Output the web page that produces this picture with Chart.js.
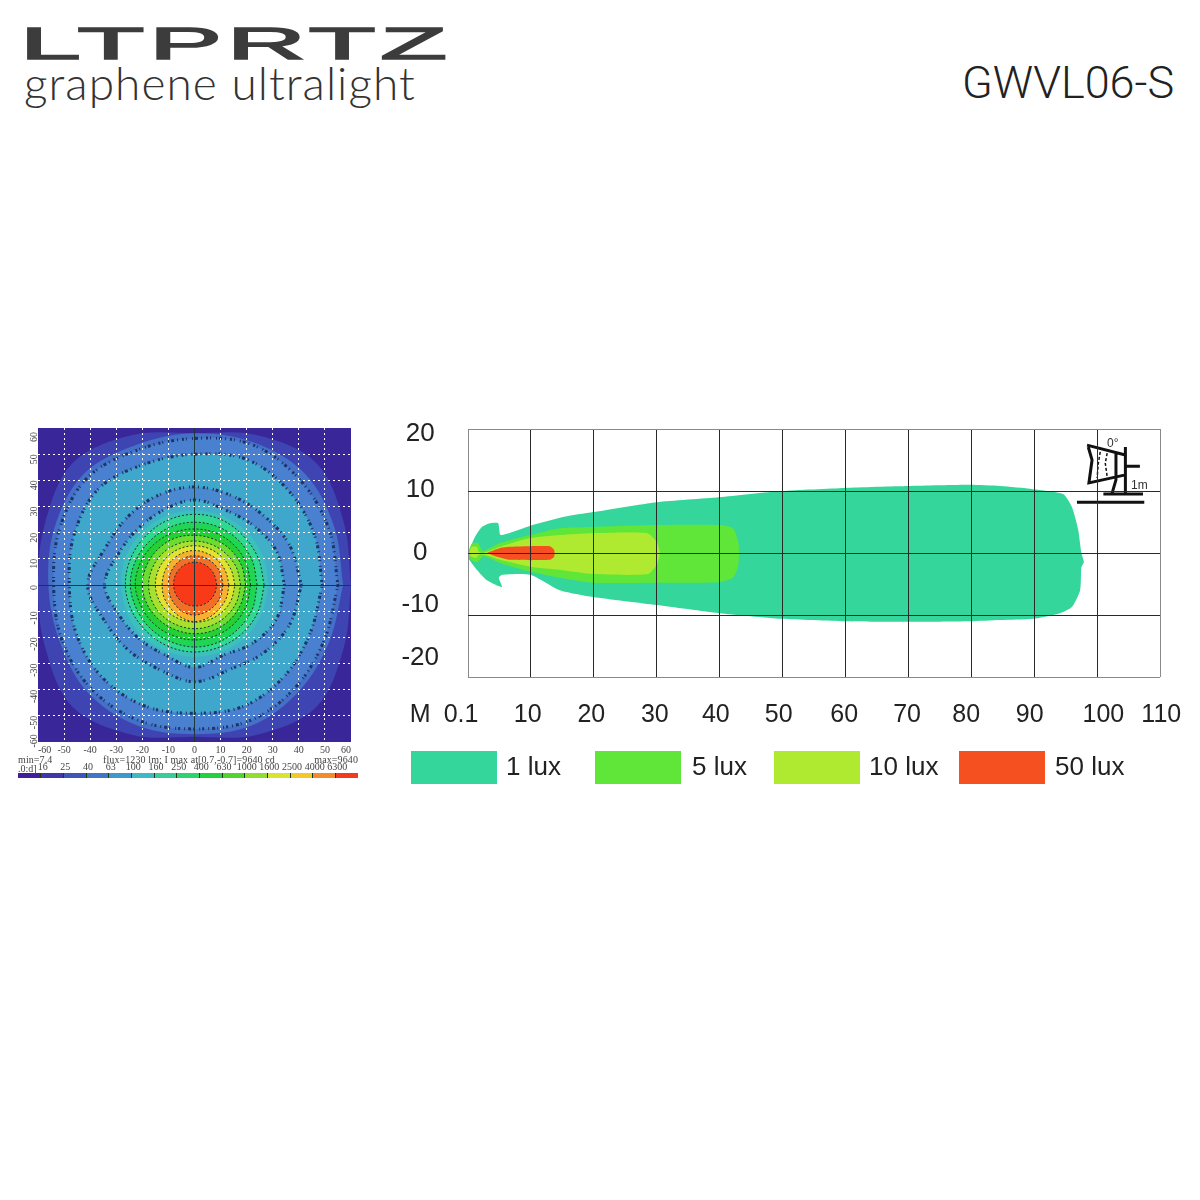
<!DOCTYPE html>
<html>
<head>
<meta charset="utf-8">
<title>GWVL06-S</title>
<script src="https://cdn.jsdelivr.net/npm/chart.js@4/dist/chart.umd.min.js"></script>
<style>
  html, body { margin: 0; padding: 0; background: #fff; }
  body { position: relative; width: 1200px; height: 1200px; overflow: hidden; font-family: "Liberation Sans", sans-serif; }
  canvas { position: absolute; }
  .txt { position: absolute; white-space: nowrap; line-height: 1; }
  #logo { left: 20px; top: 19px; font: 400 44px "Liberation Sans"; color: #3c3c3c; letter-spacing: 2px; transform: scaleX(2.48); transform-origin: left top; -webkit-text-stroke: 1.5px #3c3c3c; }
  #sub { left: 24px; top: 55px; font: 300 46px Lato; color: #333; letter-spacing: 1.05px; }
  #model { left: 962px; top: 56px; font: 300 45px Roboto; color: #222; }
  .tiny { font: 10px "Liberation Serif"; color: #444; letter-spacing: .1px; }
  .box { position: absolute; top: 751px; width: 86px; height: 33px; }
  .lux { font-size: 26px; color: #222; top: 753px; }
  .icon { font-size: 12px; color: #333; }
</style>
</head>
<body>
<div class="txt" id="logo">LTPRTZ</div>
<div class="txt" id="sub">graphene ultralight</div>
<div class="txt" id="model">GWVL06-S</div>

<canvas id="heat" width="380" height="340" style="left:0;top:420px"></canvas>
<canvas id="bar" width="380" height="30" style="left:0;top:755px"></canvas>
<canvas id="throw" width="820" height="340" style="left:380px;top:415px"></canvas>

<div class="txt tiny" style="left:18px;top:754px">min=7.4</div>
<div class="txt tiny" style="left:103px;top:754px">flux=1230 lm; I max at[0.7,-0.7]=9640 cd</div>
<div class="txt tiny" style="right:842px;top:754px">max=9640</div>
<div class="txt tiny" style="left:18px;top:763px;letter-spacing:0">.0:d]</div>
<div class="txt icon" style="left:1107px;top:437px">0°</div>
<div class="txt icon" style="left:1131px;top:479px">1m</div>
<div id="legend"></div>

<script>
// luminous intensity map: level radii read in 16 directions, counter-clockwise from east
var heatTicks = [-60, -50, -40, -30, -20, -10, 0, 10, 20, 30, 40, 50, 60];
var heatLabelPos = [-57, -50, -40, -30, -20, -10, 0, 10, 20, 30, 40, 50, 58.5];
var cornerSquare = [{x: -60, y: -60}, {x: 60, y: -60}, {x: 60, y: 60}, {x: -60, y: 60}, {x: -60, y: -60}];
var edgeLevel = [60, 62, 66, 62, 58, 62, 66, 62, 60, 62, 66, 62, 58, 62, 66, 62];
var midLevel = [57, 58, 60, 59, 58, 58, 60, 58, 56, 56, 58, 58, 57, 58, 57, 56];
var outerBandOut = [55, 55.8, 57, 58, 56, 56, 58, 56, 54, 55, 56, 56, 55, 56, 55, 54];
var outerBandIn = [49, 49.8, 51, 52, 50, 50, 52, 50, 48, 49, 50, 50, 49, 50, 49, 48];
var innerBandOut = [41, 39.5, 37.5, 37, 37.5, 37, 36.5, 37, 41, 37, 35.5, 35, 37, 35, 37, 39.5];
var innerBandIn = [34.5, 34, 32, 31, 32.5, 31, 30.5, 31.5, 34.5, 31, 29.5, 29, 31.5, 29, 31.5, 34];
var halo = [28.5, 28.5, 28.5, 28.5, 28.5, 28.5, 28.5, 28.5, 28, 28, 28, 27.5, 27.5, 27.5, 28, 28];
var contour1 = [26.7, 26.5, 26.5, 27, 27, 26.8, 26.5, 26.5, 26.5, 26, 25.5, 25.5, 25.6, 25.6, 26, 26.4];
var contour2 = [24, 24, 24, 24, 24, 24, 24, 24.4, 24.6, 24, 23.7, 23.5, 23.7, 23.7, 23.7, 24];
var contour3 = [21.5, 21.5, 21.5, 21.5, 21.4, 21.6, 22, 22.4, 22.7, 22, 21.5, 21, 21, 21, 21.2, 21.4];
var contour4 = [19.6, 19.5, 19.3, 19, 19, 19.4, 19.6, 19.8, 20, 19.6, 19, 18.6, 18.6, 18.8, 19, 19.2];
var contour5 = [17.7, 17.4, 17, 16.8, 16.8, 17, 17.2, 17.4, 17.6, 17.4, 17, 16.7, 16.7, 16.8, 17, 17.4];
var contour6 = [15.5, 15.2, 15, 15, 15, 15, 15, 15, 15, 14.8, 14.5, 14.2, 14.2, 14.4, 14.8, 15.2];
var contour7 = [13.2, 13, 13, 13, 13.2, 13, 12.8, 12.5, 12.4, 12.6, 12.8, 13.4, 14, 13.6, 13.2, 13.2];
var contour8 = [10.9, 10.9, 11, 11.1, 11.2, 11, 10.6, 10.2, 10, 10.2, 10.6, 11.2, 11.5, 11.2, 11, 10.9];
var coreLevel = [8.5, 8.5, 8.6, 8.7, 8.7, 8.6, 8.4, 8.2, 8, 8, 8, 8, 8, 8.2, 8.3, 8.4];

// colour bar
var barLabels = ['16', '25', '40', '63', '100', '160', '250', '400', '630', '1000', '1600', '2500', '4000', '6300'];
var barColors = ['#3f1f9c', '#3e37a8', '#3f55b8', '#4076c8', '#3f98cc', '#3fb8c4', '#38cc9c', '#2cd470', '#24d040', '#50d430', '#90dc30', '#d8e430', '#f4c828', '#f48a2a', '#f43a1c'];

// beam distance chart, metres and degrees
var distanceTicks = ['M', '0.1', '10', '20', '30', '40', '50', '60', '70', '80', '90', '100', '110'];
var distanceTickPos = [-7.6, -1.1, 9.5, 19.6, 29.7, 39.4, 49.4, 59.8, 69.8, 79.2, 89.3, 101, 110.2];
var heightTicks = ['20', '10', '0', '-10', '-20'];
var heightTickPos = [19.2, 10.2, 0, -8.4, -16.9];

var luxNames = ['1 lux', '5 lux', '10 lux', '50 lux'];
var luxColors = ['#35d69b', '#60e638', '#b0ea30', '#f5501f'];
var legendLeft = [411, 595, 774, 959];
var legendTextLeft = [506, 692, 869, 1055];

var lux1 = [[0, 0], [1.1, 2.6], [2.2, 4.2], [3.5, 4.8], [4.8, 4.8], [5.2, 2.9], [9.9, 4.4], [15.1, 5.8], [19.9, 6.6], [30, 8.2], [39.9, 9], [49.9, 10], [59.9, 10.5], [70, 10.8], [79.8, 11], [84.6, 10.8], [89.8, 10.3], [94.6, 9.5], [96, 7.4], [97, 3.7], [97.5, 0], [97.9, -1.5], [97.5, -2.3], [97.3, -6], [96, -8.7], [94.1, -9.7], [89.8, -10.6], [84.6, -10.8], [79.8, -11], [70, -11.1], [59.9, -11], [49.9, -10.6], [39.9, -9.7], [30, -8.4], [19.9, -7.1], [14.6, -6], [9.9, -3.5], [5.4, -3.5], [4.9, -4], [5.4, -5.5], [3, -4.4], [1.4, -2.7], [0, -0.8]];
var lux5 = [[0, 0], [0.6, 1.5], [1.6, 1.6], [2.1, 0.6], [2.5, 0.3], [5.1, 1.6], [9.9, 2.9], [14.6, 4], [19.9, 4.2], [30, 4.5], [39.9, 4.5], [42.1, 4], [42.9, 2.1], [43.1, 0], [42.9, -2.3], [42.1, -4], [39.9, -4.7], [30, -4.8], [19.9, -4.8], [14.6, -4], [9.9, -3], [5.1, -1.6], [2.5, -0.5], [2.1, -0.8], [1.4, -1.5], [0.5, -1.1], [0, -0.3]];
var lux10 = [[0.2, 0], [0.6, 1], [1.4, 1], [1.7, 0.2], [2.4, 0], [5.1, 1], [9.9, 2.4], [14.6, 2.9], [19.9, 3.2], [28.5, 3.2], [30, 1.8], [30.5, 0], [30, -1.9], [28.6, -3.4], [19.9, -3.4], [14.6, -2.7], [9.9, -2.2], [5.1, -1.1], [2.4, -0.2], [1.7, -0.3], [1.3, -0.8], [0.5, -0.6]];
var lux50 = [[3, 0], [5.1, 0.8], [6.7, 1], [13, 1.1], [13.7, 0.5], [13.7, -0.6], [13, -1.1], [6.7, -1.1], [4.6, -0.6], [3, 0]];

// mounting sketch in the top right corner
var sketchHeavy = [[96.8, 8.2], [107.5, 8.2], null, [101, 9.5], [107.3, 9.5], null, [104.5, 17.1], [104.5, 9.5], null, [104.5, 14], [106.8, 14], null, [103, 16.1], [103, 11.8], [102.4, 9.7], null, [98.4, 17.4], [104.5, 15.8], null, [98.6, 17.1], [99.2, 15], [98.7, 11.3], [104.5, 12.6]];
var sketchLight = [[100.5, 16.3], [100.2, 14.5], [100, 12.1], null, [101.6, 16.1], [101.3, 14.5], [101.6, 12.3]];

function toPoints(list) {
  return list.map(function (p) {
    return p ? {x: p[0], y: p[1]} : {x: NaN, y: NaN};
  });
}

function fromRadii(radii) {
  var pts = radii.map(function (r, i) {
    var a = i * Math.PI / 8;
    return {x: r * Math.cos(a), y: r * Math.sin(a)};
  });
  pts.push(pts[0]);
  return pts;
}

function region(points, color, line, dash, width, tension) {
  return {
    data: points,
    showLine: true,
    fill: 'shape',
    backgroundColor: color,
    borderColor: line || 'transparent',
    borderWidth: width || 0,
    borderDash: dash || [],
    pointRadius: 0,
    tension: tension === undefined ? 0.35 : tension
  };
}

var bandDots = '#1d3566';
var ringLine = '#17352a';
var speckle = [1, 2, 2, 4, 1, 3, 3, 2, 1, 5];
var heatSets = [
  region(cornerSquare, '#39279a', null, null, 0, 0),
  region(fromRadii(edgeLevel), '#3e45b2'),
  region(fromRadii(midLevel), '#4470c8'),
  region(fromRadii(outerBandOut), '#4a80d0', bandDots, speckle, 3),
  region(fromRadii(outerBandIn), '#3fa6cc', bandDots, speckle, 3),
  region(fromRadii(innerBandOut), '#4a88d0', bandDots, speckle, 3),
  region(fromRadii(innerBandIn), '#3fb0c8', bandDots, speckle, 3),
  region(fromRadii(halo), '#3cc0bc'),
  region(fromRadii(contour1), '#30d890', ringLine, [2, 2], 1),
  region(fromRadii(contour2), '#20d454', ringLine, [2, 2], 1),
  region(fromRadii(contour3), '#24d034', ringLine, [2, 2], 1),
  region(fromRadii(contour4), '#6cdc30', ringLine, [2, 2], 1),
  region(fromRadii(contour5), '#a8e030', ringLine, [2, 2], 1),
  region(fromRadii(contour6), '#e4e230', ringLine, [2, 2], 1),
  region(fromRadii(contour7), '#f8b030', ringLine, [2, 2], 1),
  region(fromRadii(contour8), '#f0702a', ringLine, [2, 2], 1),
  region(fromRadii(coreLevel), '#f83a18', ringLine, [2, 2], 1)
];
heatSets.forEach(function (d, i) { d.order = -i; });

function heatGrid(ctx) {
  if (ctx.tick.value === 0) return '#1a3a3a';
  return Math.abs(ctx.tick.value) === 60 ? 'transparent' : '#ffffff';
}
function heatDash(ctx) {
  return ctx.tick.value === 0 ? [] : [2, 3];
}

new Chart(document.getElementById('heat'), {
  type: 'scatter',
  data: {datasets: heatSets},
  options: {
    responsive: false,
    animation: false,
    layout: {padding: {top: 8, right: 29, left: 0, bottom: 0}},
    plugins: {legend: {display: false}, tooltip: {enabled: false}},
    scales: {
      x: {
        min: -60, max: 60,
        afterBuildTicks: function (s) { s.ticks = heatTicks.map(function (v) { return {value: v}; }); },
        afterFit: function (s) { s.height = 18; s.paddingLeft = 0; s.paddingRight = 0; },
        grid: {color: heatGrid, z: 1, drawTicks: false, lineWidth: 1},
        border: {display: false, dash: heatDash},
        ticks: {align: 'inner', maxRotation: 0, autoSkip: false, padding: 2, color: '#444', font: {family: 'Liberation Serif', size: 10}}
      },
      y: {
        min: -60, max: 60,
        afterBuildTicks: function (s) { s.ticks = heatTicks.map(function (v) { return {value: v}; }); },
        afterFit: function (s) { s.width = 0; s.paddingTop = 0; s.paddingBottom = 0; },
        grid: {color: heatGrid, z: 1, drawTicks: false, lineWidth: 1},
        border: {display: false, dash: heatDash},
        ticks: {display: false}
      },
      yLabels: {
        axis: 'y',
        position: 'left',
        min: -60, max: 60,
        afterBuildTicks: function (s) { s.ticks = heatLabelPos.map(function (v) { return {value: v}; }); },
        afterFit: function (s) { s.width = 38; s.paddingTop = 0; s.paddingBottom = 0; },
        grid: {display: false},
        border: {display: false},
        ticks: {
          minRotation: 90, maxRotation: 90, autoSkip: false, padding: -4, color: '#444',
          font: {family: 'Liberation Serif', size: 10},
          callback: function (v, i) { return String(heatTicks[i]); }
        }
      }
    }
  }
});

new Chart(document.getElementById('bar'), {
  type: 'bar',
  data: {
    labels: [''],
    datasets: barColors.map(function (c) {
      return {data: [1], backgroundColor: c, barPercentage: 1, categoryPercentage: 1, stack: 'level'};
    })
  },
  options: {
    indexAxis: 'y',
    responsive: false,
    animation: false,
    layout: {padding: {left: 18, right: 22, top: 0, bottom: 7}},
    plugins: {legend: {display: false}, tooltip: {enabled: false}},
    scales: {
      x: {
        position: 'top',
        stacked: true,
        min: 0, max: 15,
        afterBuildTicks: function (s) { s.ticks = barLabels.map(function (v, i) { return {value: i + 1}; }); },
        afterFit: function (s) { s.height = 18; s.paddingLeft = 0; s.paddingRight = 0; },
        grid: {color: '#1a3a1a', z: 1, drawTicks: false},
        border: {display: false},
        ticks: {
          autoSkip: false, maxRotation: 0, padding: 0, labelOffset: 2, color: '#444',
          font: {family: 'Liberation Serif', size: 10},
          callback: function (v, i) { return barLabels[i]; }
        }
      },
      y: {stacked: true, display: false}
    }
  }
});

function edgeOrDark(ctx, lo, hi) {
  return (ctx.tick.value === lo || ctx.tick.value === hi) ? '#8a8a8a' : '#2a2a2a';
}

var throwSets = [
  {data: toPoints(sketchHeavy), borderColor: '#111', borderWidth: 3, showLine: true, pointRadius: 0, spanGaps: false},
  {data: toPoints(sketchLight), borderColor: '#111', borderWidth: 1.5, borderDash: [3, 2], showLine: true, pointRadius: 0, spanGaps: false},
  region(toPoints(lux50), luxColors[3], null, null, 0, 0.2),
  region(toPoints(lux10), luxColors[2], null, null, 0, 0.2),
  region(toPoints(lux5), luxColors[1], null, null, 0, 0.2),
  region(toPoints(lux1), luxColors[0], null, null, 0, 0.2)
];

new Chart(document.getElementById('throw'), {
  type: 'scatter',
  data: {datasets: throwSets},
  options: {
    responsive: false,
    animation: false,
    layout: {padding: {top: 14, right: 40, left: 0, bottom: 0}},
    plugins: {legend: {display: false}, tooltip: {enabled: false}},
    scales: {
      x: {
        min: 0, max: 110,
        afterFit: function (s) { s.height = 0; s.paddingLeft = 0; s.paddingRight = 0; },
        grid: {color: function (c) { return edgeOrDark(c, 0, 110); }, z: 1, drawTicks: false},
        border: {display: false},
        ticks: {display: false, stepSize: 10}
      },
      xLabels: {
        axis: 'x',
        position: 'bottom',
        min: 0, max: 110,
        afterBuildTicks: function (s) { s.ticks = distanceTickPos.map(function (v) { return {value: v}; }); },
        afterFit: function (s) { s.height = 78; s.paddingLeft = 0; s.paddingRight = 0; },
        grid: {display: false},
        border: {display: false},
        ticks: {
          autoSkip: false, maxRotation: 0, padding: 15, color: '#222',
          font: {family: 'Liberation Sans', size: 25},
          callback: function (v, i) { return distanceTicks[i]; }
        }
      },
      y: {
        min: -20, max: 20,
        afterFit: function (s) { s.width = 0; s.paddingTop = 0; s.paddingBottom = 0; },
        grid: {color: function (c) { return edgeOrDark(c, -20, 20); }, z: 1, drawTicks: false},
        border: {display: false},
        ticks: {display: false, stepSize: 10}
      },
      yLabels: {
        axis: 'y',
        position: 'left',
        min: -20, max: 20,
        afterBuildTicks: function (s) { s.ticks = heightTickPos.map(function (v) { return {value: v}; }); },
        afterFit: function (s) { s.width = 88; s.paddingTop = 0; s.paddingBottom = 0; },
        grid: {display: false},
        border: {display: false},
        ticks: {
          autoSkip: false, crossAlign: 'center', padding: 21, color: '#222',
          font: {family: 'Liberation Sans', size: 26},
          callback: function (v, i) { return heightTicks[i]; }
        }
      }
    }
  }
});

var legendEl = document.getElementById('legend');
luxNames.forEach(function (name, i) {
  var box = document.createElement('div');
  box.className = 'box';
  box.style.left = legendLeft[i] + 'px';
  box.style.background = luxColors[i];
  legendEl.appendChild(box);
  var label = document.createElement('div');
  label.className = 'txt lux';
  label.style.left = legendTextLeft[i] + 'px';
  label.textContent = name;
  legendEl.appendChild(label);
});
</script>
</body>
</html>
